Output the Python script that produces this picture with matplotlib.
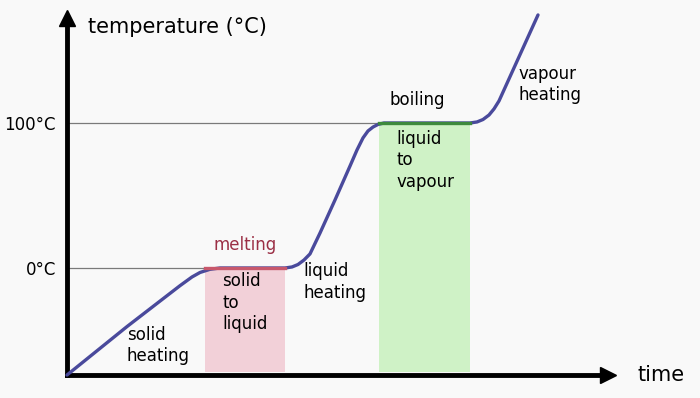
import matplotlib.pyplot as plt

# heating curve of water: time (arbitrary units) vs temperature (°C)
curve_time = [0, 12, 22.6, 25, 26.6, 28.6, 30.6,
              43.6, 45, 46.2, 47.4, 48.6, 50.6, 53.6, 56.6, 58, 59.2, 60.2, 61.2, 62.2, 63.4,
              80.6, 82, 83.2, 84.4, 85.4, 86.4, 94.2]
curve_temp = [-73.8, -40.4, -12.2, -6.2, -3.1, -0.9, 0,
              0, 0.7, 2.4, 5.5, 9.7, 24.1, 46.9, 70.3, 81.4, 89.7, 94.5, 97.2, 99, 100,
              100, 100.7, 102.4, 105.5, 109.7, 115.2, 174.5]

melt_span = (27.6, 43.6)   # solid -> liquid at 0 °C
boil_span = (62.4, 80.6)   # liquid -> vapour at 100 °C
melt_temp = 0
boil_temp = 100

tick_values = [0, 100]
tick_labels = ["0°C", "100°C"]

t_max = 108.2
temp_min, temp_max = -73.8, 172.4

bg = "#f9f9f9"
fig = plt.figure(figsize=(7, 3.98), dpi=100, facecolor=bg)
ax = fig.add_axes([67 / 700, 23 / 398, 541 / 700, 357 / 398])
ax.set_facecolor(bg)
ax.set_xlim(0, t_max)
ax.set_ylim(temp_min, temp_max)

# phase-change boxes
ax.fill_between(melt_span, temp_min + 2, melt_temp, color="#f2d0d8", lw=0, zorder=1)
ax.fill_between(boil_span, temp_min + 2, boil_temp, color="#cff2c6", lw=0, zorder=1)

# reference lines
ax.plot([0, melt_span[0]], [melt_temp, melt_temp], color="#7a7a7a", lw=0.9, zorder=2)
ax.plot([0, boil_span[0]], [boil_temp, boil_temp], color="#7a7a7a", lw=0.9, zorder=2)

# heating curve
ax.plot(curve_time, curve_temp, color="#4a4a9c", lw=2.4, clip_on=False,
        solid_capstyle="round", solid_joinstyle="round", zorder=3)
ax.plot(melt_span, [melt_temp, melt_temp], color="#c8586c", lw=2.4, zorder=4)
ax.plot(boil_span, [boil_temp, boil_temp], color="#3d8a3d", lw=2.4, zorder=4)

# axes as arrows
for side in ["top", "right"]:
    ax.spines[side].set_visible(False)
for side in ["left", "bottom"]:
    ax.spines[side].set_linewidth(3.5)
    ax.spines[side].set_color("black")
ax.plot(1, 0, ">k", markersize=12, transform=ax.transAxes, clip_on=False)
ax.plot(0, 1, "^k", markersize=12, transform=ax.transAxes, clip_on=False)

ax.set_xticks([])
ax.set_yticks(tick_values)
ax.set_yticklabels(tick_labels, fontsize=12)
ax.tick_params(axis="y", length=0, pad=8)

ax.text(0.039, 0.975, "temperature (°C)", transform=ax.transAxes,
        fontsize=15, va="center", ha="left")
ax.text(1.054, 0.0, "time", transform=ax.transAxes,
        fontsize=15, va="center", ha="left")

txt = dict(fontsize=12, ha="left", va="top", linespacing=1.25)
ax.text(35.6, 16, "melting", color="#9b2f45", fontsize=12, ha="center", va="center")
ax.text(31, -2.8, "solid\nto\nliquid", **txt)
ax.text(12, -40, "solid\nheating", **txt)
ax.text(47.2, 4.1, "liquid\nheating", **txt)
ax.text(64.4, 116, "boiling", fontsize=12, ha="left", va="center")
ax.text(65.8, 95.2, "liquid\nto\nvapour", **txt)
ax.text(90.2, 140, "vapour\nheating", **txt)

fig.savefig("out.png", dpi=100, facecolor=bg)
